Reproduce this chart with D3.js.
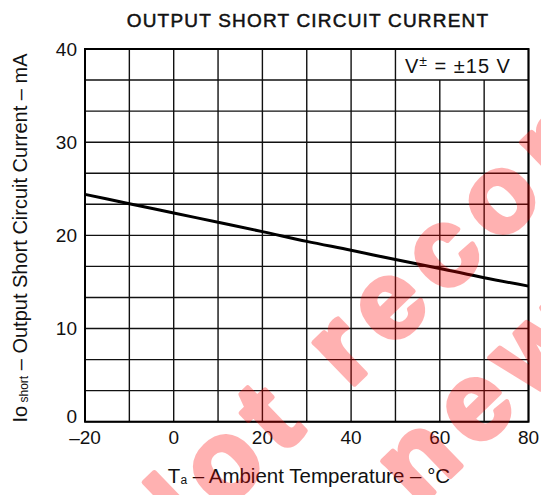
<!DOCTYPE html>
<html>
<head>
<meta charset="utf-8">
<script src="https://cdn.jsdelivr.net/npm/d3@7"></script>
<style>
  html, body { margin: 0; padding: 0; background: #fff; }
  svg { display: block; font-family: "Liberation Sans", Arial, Helvetica, sans-serif; }
</style>
</head>
<body>
<div id="chart"></div>
<script>
// Data
const temperatures = [-20, -10, 0, 10, 20, 30, 40, 50, 60, 70, 80];
const shortCurrent = [24.4, 23.4, 22.4, 21.4, 20.4, 19.35, 18.4, 17.4, 16.45, 15.45, 14.55];
const xTickValues = [-20, 0, 20, 40, 60, 80];
const yTickValues = [0, 10, 20, 30, 40];
const xGridValues = [-20, -10, 0, 10, 20, 30, 40, 50, 60, 70, 80];
const yGridDivisions = 12; // three minor rows per 10 mA

const width = 541, height = 495;
const margin = { top: 49, right: 12.5, bottom: 73.3, left: 85 };

const svg = d3.select('#chart').append('svg')
  .attr('width', width)
  .attr('height', height);

const x = d3.scaleLinear().domain([-20, 80]).range([margin.left, width - margin.right]);
const y = d3.scaleLinear().domain([0, 40]).range([height - margin.bottom, margin.top]);

const yGridValues = d3.range(yGridDivisions + 1).map(i => i * 40 / yGridDivisions);
const boxBottom = yGridValues[yGridDivisions - 1]; // label box sits in the top row, 50..80 °C

// Grid: horizontal lines
svg.append('g')
  .selectAll('line')
  .data(yGridValues)
  .join('line')
  .attr('x1', x(-20)).attr('x2', x(80))
  .attr('y1', d => y(d)).attr('y2', d => y(d))
  .attr('stroke', '#111').attr('stroke-width', 1.4);

// Grid: vertical lines (60 and 70 stop under the label box)
svg.append('g')
  .selectAll('line')
  .data(xGridValues)
  .join('line')
  .attr('x1', d => x(d)).attr('x2', d => x(d))
  .attr('y1', y(0))
  .attr('y2', d => (d > 50 && d < 80) ? y(boxBottom) : y(40))
  .attr('stroke', '#111').attr('stroke-width', 1.4);

// Frame
svg.append('rect')
  .attr('x', x(-20)).attr('y', y(40))
  .attr('width', x(80) - x(-20)).attr('height', y(0) - y(40))
  .attr('fill', 'none').attr('stroke', '#000').attr('stroke-width', 2);

// Curve
const line = d3.line()
  .x((d, i) => x(temperatures[i]))
  .y(d => y(d))
  .curve(d3.curveMonotoneX);

svg.append('path')
  .datum(shortCurrent)
  .attr('d', line)
  .attr('fill', 'none')
  .attr('stroke', '#000')
  .attr('stroke-width', 3);

// Axes labels
const fmt = d => d < 0 ? '\u2013' + Math.abs(d) : String(d);

svg.append('g')
  .selectAll('text')
  .data(xTickValues)
  .join('text')
  .attr('x', d => x(d))
  .attr('y', y(0) + 22)
  .attr('text-anchor', 'middle')
  .attr('font-size', 19)
  .attr('fill', '#111')
  .text(fmt);

svg.append('g')
  .selectAll('text')
  .data(yTickValues)
  .join('text')
  .attr('x', x(-20) - 8)
  .attr('y', d => d === 0 ? y(d) - 5 : y(d))
  .attr('dy', '0.35em')
  .attr('text-anchor', 'end')
  .attr('font-size', 19)
  .attr('fill', '#111')
  .text(fmt);

// Title
svg.append('text')
  .attr('x', 308).attr('y', 27)
  .attr('text-anchor', 'middle')
  .attr('font-size', 19)
  .attr('letter-spacing', 1.2)
  .attr('fill', '#111')
  .attr('stroke', '#111')
  .attr('stroke-width', 0.5)
  .text('OUTPUT SHORT CIRCUIT CURRENT');

// X title with subscript
const xt = svg.append('text')
  .attr('x', 309).attr('y', 483)
  .attr('text-anchor', 'middle')
  .attr('font-size', 20.5)
  .attr('fill', '#111');
xt.append('tspan').text('T');
xt.append('tspan').attr('font-size', 12).attr('dy', 1).text('a');
xt.append('tspan').attr('dy', -1).text(' \u2013 Ambient Temperature \u2013 \u00B0C');

// Y title with subscript
const yt = svg.append('text')
  .attr('transform', `translate(27, ${238}) rotate(-90)`)
  .attr('text-anchor', 'middle')
  .attr('font-size', 20)
  .attr('fill', '#111');
yt.append('tspan').text('Io');
yt.append('tspan').attr('font-size', 12).attr('dy', 1).text(' short');
yt.append('tspan').attr('dy', -1).text(' \u2013 Output Short Circuit Current \u2013 mA');

// Condition label in top-right cell
const vt = svg.append('text')
  .attr('x', (x(50) + x(80)) / 2 - 4)
  .attr('y', 73)
  .attr('text-anchor', 'middle')
  .attr('font-size', 20)
  .attr('letter-spacing', 1)
  .attr('fill', '#111');
vt.append('tspan').text('V');
vt.append('tspan').attr('font-size', 14).attr('dy', -7).text('\u00B1');
vt.append('tspan').attr('dy', 7).text(' = \u00B115 V');

// Watermark
const wm = svg.append('g')
  .attr('fill', '#ff0000')
  .attr('stroke', '#ff0000')
  .attr('stroke-width', 5)
  .attr('stroke-linejoin', 'round')
  .attr('opacity', 0.3)
  .attr('font-size', 110)
  .attr('letter-spacing', 14)
  .attr('font-weight', 'bold');
wm.append('text')
  .attr('transform', 'translate(155, 577) rotate(-44)')
  .text('Not recommended');
wm.append('text')
  .attr('transform', 'translate(250, 670) rotate(-44)')
  .text('for new designs');
</script>
</body>
</html>
